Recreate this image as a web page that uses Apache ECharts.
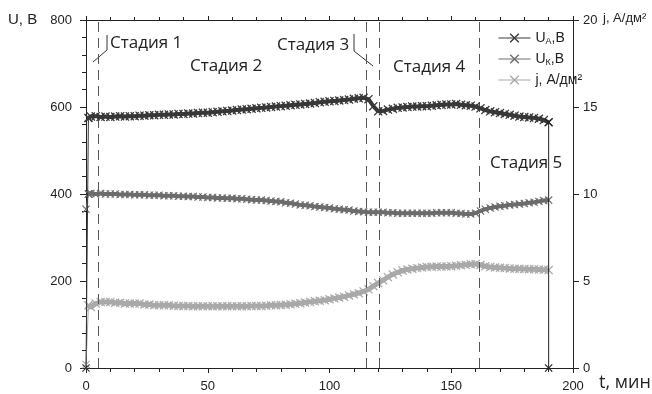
<!DOCTYPE html>
<html><head><meta charset="utf-8">
<script src="https://cdn.jsdelivr.net/npm/echarts@6/dist/echarts.min.js"></script>
<style>html,body{margin:0;padding:0;background:#fff}#c{width:652px;height:394px}</style>
</head><body><div id="c"></div>
<script>
// time, min
const tMin = [0,1,2,4,6,8,10,12,14,16,18,20,22,24,26,28,30,32,34,36,38,40,42,44,46,48,50,52,54,56,58,60,62,64,66,68,70,72,74,76,78,80,82,84,86,88,90,92,94,96,98,100,102,104,106,108,110,112,114,116,118,120,122,124,126,128,130,132,134,136,138,140,142,144,146,148,150,152,154,156,158,160,162,164,166,168,170,172,174,176,178,180,182,184,186,188,190];
// U_A, V
const uAnode = [0,575,
 578,579,577,578,577,578,579,578,579,579,
 580,580,581,581,582,582,583,583,584,584,
 585,585,586,587,587,588,589,590,591,592,
 593,594,595,596,597,598,599,600,601,602,
 603,604,605,606,607,608,609,611,612,613,
 614,615,616,617,619,620,621,618,602,590,
 591,594,596,598,599,600,601,601,602,602,
 603,604,605,606,606,607,605,604,603,601,
 597,593,590,588,586,584,582,580,578,577,
 576,575,573,570,565];
// final switch-off point of U_A
const anodeOffTime = 190;
const anodeOffValue = 0;
// U_K, V
const uCathode = [365,400,
 401,400,401,400,400,400,399,399,399,398,
 398,398,397,397,397,396,396,396,395,395,
 394,394,393,393,392,392,391,391,390,390,
 389,389,388,387,386,386,385,384,383,382,
 380,379,377,375,374,373,371,370,369,368,
 366,365,364,363,361,360,359,358,358,358,
 358,357,357,356,356,356,356,356,356,356,
 356,357,357,357,357,356,355,354,354,356,
 361,365,368,370,372,373,375,376,377,378,
 380,381,383,385,386];
// j, A/dm2
const jDensity = [0.2,3.6,
 3.5,3.7,3.8,3.8,3.8,3.75,3.75,3.7,3.7,3.7,
 3.7,3.65,3.65,3.6,3.6,3.6,3.6,3.58,3.57,3.56,
 3.56,3.55,3.55,3.55,3.55,3.55,3.55,3.55,3.55,3.55,
 3.55,3.55,3.55,3.56,3.56,3.57,3.58,3.6,3.6,3.62,
 3.64,3.66,3.69,3.72,3.76,3.8,3.83,3.86,3.9,3.95,
 4.0,4.05,4.1,4.17,4.24,4.3,4.4,4.52,4.7,4.88,
 5.05,5.22,5.38,5.5,5.6,5.66,5.71,5.74,5.77,5.8,
 5.82,5.83,5.83,5.84,5.85,5.88,5.9,5.93,5.96,5.97,
 5.92,5.85,5.8,5.78,5.76,5.74,5.72,5.71,5.7,5.69,
 5.68,5.67,5.66,5.65,5.63];
// stage boundaries, min
const stageBounds = [5, 115.2, 120.6, 161.3];
const stageNames = ['Стадия 1','Стадия 2','Стадия 3','Стадия 4','Стадия 5'];
const seriesNames = ['UA','UK','j'];
const legendLabels = ['U{s|А},В','U{s|К},В','j, А/дм²'];

const X = 'path://M0,1L1,0L5,4L9,0L10,1L6,5L10,9L9,10L5,6L1,10L0,9L4,5Z';
const AX = '#222';
const C_UA = '#383838', C_UK = '#6c6c6c', C_J = '#a9a9a9';
const tickFont = {fontFamily:'Liberation Sans', fontSize:13, color:'#222'};

const chart = echarts.init(document.getElementById('c'), null, {renderer:'canvas'});
function pairs(ts, vs){ return ts.map((t,i)=>[t, vs[i]]); }

const uaPts = pairs(tMin, uAnode), ukPts = pairs(tMin, uCathode), jPts = pairs(tMin, jDensity);
const last = tMin.length - 1;

function band(name, pts, color, width, size, yIdx, z, extra){
  return Object.assign({name, type:'line', yAxisIndex:yIdx, z, data:pts,
    symbol:X, symbolSize:size, showAllSymbol:true,
    lineStyle:{color, width}, itemStyle:{color}}, extra||{});
}
function thin(name, pts, color, yIdx, z){
  return {name, type:'line', yAxisIndex:yIdx, z, data:pts,
    symbol:X, symbolSize:8, showAllSymbol:true,
    lineStyle:{color, width:1}, itemStyle:{color}};
}

const option = {
  animation:false,
  backgroundColor:'#fff',
  grid:{left:86, right:79, top:20, bottom:26},
  xAxis:[{
    type:'value', min:0, max:200, interval:50, position:'bottom',
    axisLine:{show:true, onZero:false, lineStyle:{color:AX, width:1}},
    axisTick:{show:true, inside:false, length:5, lineStyle:{color:AX}},
    minorTick:{show:true, splitNumber:5, length:4, lineStyle:{color:AX}},
    axisLabel:Object.assign({margin:12}, tickFont),
    splitLine:{show:false}
  },{
    type:'value', min:0, max:200, interval:50, position:'top',
    axisLine:{show:true, onZero:false, lineStyle:{color:AX, width:1}},
    axisTick:{show:true, inside:false, length:4, lineStyle:{color:AX}},
    minorTick:{show:true, splitNumber:5, length:3, lineStyle:{color:AX}},
    axisLabel:{show:false}, splitLine:{show:false}
  }],
  yAxis:[{
    type:'value', min:0, max:800, interval:200, position:'left',
    axisLine:{show:true, onZero:false, lineStyle:{color:AX, width:1}},
    axisTick:{show:true, inside:false, length:6, lineStyle:{color:AX}},
    minorTick:{show:true, splitNumber:5, length:4, lineStyle:{color:AX}},
    axisLabel:Object.assign({margin:14}, tickFont),
    splitLine:{show:false}
  },{
    type:'value', min:0, max:20, interval:5, position:'right',
    axisLine:{show:true, onZero:false, lineStyle:{color:AX, width:1}},
    axisTick:{show:true, inside:false, length:6, lineStyle:{color:AX}},
    axisLabel:Object.assign({margin:10}, tickFont),
    splitLine:{show:false}
  }],
  legend:{
    data:seriesNames, orient:'vertical', left:493, top:26,
    itemWidth:32, itemHeight:12, itemGap:6,
    lineStyle:{width:1},
    formatter:function(n){ return legendLabels[seriesNames.indexOf(n)]; },
    textStyle:{fontFamily:'Liberation Sans', fontSize:14, color:'#222',
      rich:{s:{fontFamily:'Liberation Sans', fontSize:9, color:'#222', padding:[7,0,0,0]}}}
  },
  series:[
    band('UA', uaPts.slice(1), C_UA, 4, 9, 0, 6),
    band('UK', ukPts.slice(1), C_UK, 4, 8, 0, 5),
    band('j', jPts.slice(1), C_J, 5, 9, 1, 4, {
      markLine:{silent:true, symbol:['none','none'], label:{show:false},
        lineStyle:{color:'#555', type:[10,6], width:1},
        data:stageBounds.map(v=>({xAxis:v}))}}),
    thin('j', jPts.slice(0,2), C_J, 1, 3),
    thin('UK', ukPts.slice(0,2), C_UK, 0, 3),
    thin('UA', uaPts.slice(0,2), C_UA, 0, 7),
    thin('UA', [uaPts[last], [anodeOffTime, anodeOffValue]], '#222', 0, 7)
  ],
  graphic:[
    {type:'text', x:8, y:20, style:{text:'U, В', font:'15px "Liberation Sans"', fill:'#222', verticalAlign:'middle', align:'left'}},
    {type:'text', x:603, y:18, style:{text:'j, А/дм²', font:'13px "Liberation Sans"', fill:'#222', verticalAlign:'middle', align:'left'}},
    {type:'text', x:599, y:383, style:{text:'t, мин', font:'18px "Open Sans"', fill:'#222', verticalAlign:'middle', align:'left'}},
    {type:'text', x:110, y:43, style:{text:stageNames[0], font:'17px "Open Sans"', fill:'#222', verticalAlign:'middle', align:'left'}},
    {type:'text', x:190, y:66, style:{text:stageNames[1], font:'17px "Open Sans"', fill:'#222', verticalAlign:'middle', align:'left'}},
    {type:'text', x:277, y:45, style:{text:stageNames[2], font:'17px "Open Sans"', fill:'#222', verticalAlign:'middle', align:'left'}},
    {type:'text', x:393, y:67, style:{text:stageNames[3], font:'17px "Open Sans"', fill:'#222', verticalAlign:'middle', align:'left'}},
    {type:'text', x:490, y:163, style:{text:stageNames[4], font:'17px "Open Sans"', fill:'#222', verticalAlign:'middle', align:'left'}},
    {type:'polyline', shape:{points:[[93,62],[107,50],[107,35]]}, style:{stroke:'#333', fill:null, lineWidth:1}},
    {type:'polyline', shape:{points:[[354,34],[354,51],[373,66]]}, style:{stroke:'#333', fill:null, lineWidth:1}}
  ]
};
chart.setOption(option);
</script></body></html>
